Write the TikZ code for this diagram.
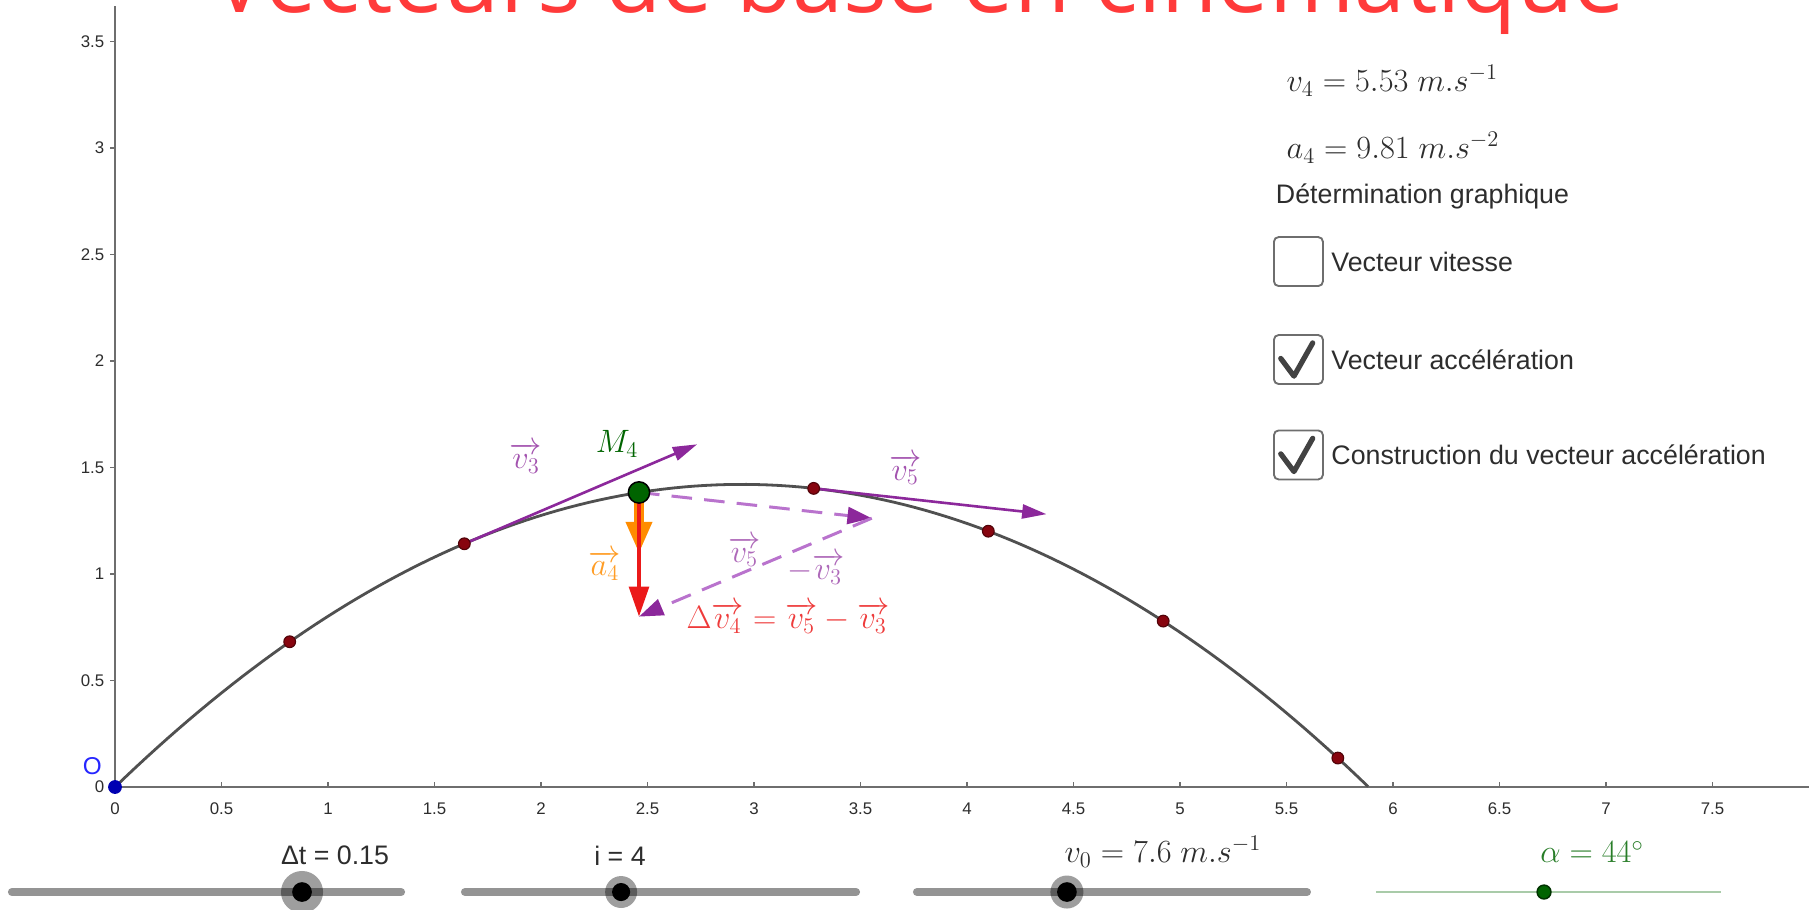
\documentclass[tikz,border=0pt]{standalone}
\usepackage[no-math]{fontspec}
\setmainfont{Liberation Sans}
\newfontfamily\titrefont{Open Sans}
\usepackage{amsmath}
\usetikzlibrary{arrows.meta,positioning,calc}

\definecolor{rougetitre}{RGB}{255,58,58}
\definecolor{gristrait}{RGB}{110,110,110}
\definecolor{griscourbe}{RGB}{80,80,80}
\definecolor{pointrouge}{RGB}{135,5,15}
\definecolor{vertpoint}{RGB}{0,100,0}
\definecolor{vecteurcol}{RGB}{140,40,155}
\definecolor{violetclair}{RGB}{185,115,205}
\definecolor{orangeacc}{RGB}{255,140,0}
\definecolor{rougedv}{RGB}{235,25,25}
\definecolor{texteui}{RGB}{45,45,45}
\definecolor{vertalpha}{RGB}{40,125,40}

\tikzset{
    axe/.style={
        draw=gristrait,           % gris moyen comme dans GeoGebra
        line width=1.4pt
    },
    graduation/.style={
        font=\fontsize{9}{10}\selectfont, % petits chiffres
        text=texteui,
        inner sep=1pt
    },
    trajectoire/.style={
        draw=griscourbe,          % parabole gris foncé
        line width=1.5pt
    },
    pointtraj/.style={
        circle,                   % petit disque
        fill=pointrouge,          % rouge sombre
        draw=pointrouge!60!black, % bord un peu plus foncé
        line width=0.6pt,
        inner sep=0pt,
        minimum size=0.22cm
    },
    pointM/.style={
        circle,
        fill=vertpoint,           % point courant en vert
        draw=black,
        line width=0.8pt,
        inner sep=0pt,
        minimum size=0.40cm
    },
    vitesse/.style={
        draw=vecteurcol,          % vecteurs vitesse en violet
        line width=1.4pt,
        -{Triangle[length=13pt,width=7.5pt]}
    },
    construction/.style={
        draw=violetclair,         % construction en tirets plus clairs
        line width=1.6pt,
        dash pattern=on 11pt off 6.5pt,
        -{Triangle[length=13pt,width=9pt,color=vecteurcol]}
    },
    acceleration/.style={
        draw=orangeacc,           % vecteur accélération épais
        line width=5pt,
        -{Triangle[length=17pt,width=13pt]}
    },
    variation/.style={
        draw=rougedv,
        line width=2pt,
        -{Triangle[length=16pt,width=10.5pt]}
    },
    etiquette/.style={
        font=\fontsize{17}{20}\selectfont, % formules des vecteurs
        inner sep=1pt
    },
    libelle/.style={
        font=\fontsize{14.3}{17}\selectfont, % textes de l'interface
        text=texteui,
        inner sep=1pt
    },
    caseacocher/.style={
        rectangle,
        rounded corners=2.5pt,    % coins légèrement arrondis
        draw=gristrait,
        line width=1pt,
        minimum size=0.92cm
    },
    coche/.style={
        draw=texteui!90,
        line width=2.8pt,
        line cap=round,
        line join=round
    },
    glissiere/.style={
        draw=black!42,            % barre grise épaisse
        line width=4.3pt,
        line cap=round
    },
    halo/.style={
        circle,
        fill=black,
        fill opacity=0.38,        % anneau gris autour du curseur
        inner sep=0pt
    },
    curseur/.style={
        circle,
        fill=black,
        inner sep=0pt,
        minimum size=0.37cm
    }
}

\begin{document}
\begin{tikzpicture}[x=4cm,y=4cm]
    \useasboundingbox (-0.540,-0.577) rectangle (7.953,3.695);

    % titre (coupé en haut)
    \node[anchor=base west, inner sep=0pt, text=rougetitre,
          font=\titrefont\fontsize{49}{55}\selectfont] (titre) at (0.455,3.634)
          {Vecteurs de base en cinématique};

    % axes et graduations
    \draw[axe] (0,0) -- (7.953,0);
    \draw[axe] (0,0) -- (0,3.667);
    \foreach \x in {0.5,1,1.5,2,2.5,3,3.5,4,4.5,5,5.5,6,6.5,7,7.5} {
        \draw[axe, line width=0.8pt] (\x,0) -- (\x,0.022);
        \node[graduation] at (\x,-0.1) {\x};
    }
    \foreach \y in {0.5,1,1.5,2,2.5,3,3.5} {
        \draw[axe, line width=0.8pt] (-0.022,\y) -- (0,\y);
        \node[graduation, anchor=east] at (-0.04,\y) {\y};
    }
    \node[graduation] (zerox) at (0,-0.1) {0};
    \node[graduation, anchor=east] (zeroy) at (-0.04,0) {0};

    % trajectoire parabolique
    \draw[trajectoire] plot[domain=0:5.884, samples=120] (\x,{0.9657*\x-0.1641*\x*\x});

    % positions successives
    \coordinate (M2) at (0.820,0.682);
    \coordinate (M3) at (1.640,1.142);
    \coordinate (M4) at (2.460,1.383);
    \coordinate (M5) at (3.280,1.402);
    \coordinate (M6) at (4.100,1.201);
    \coordinate (M7) at (4.921,0.779);
    \coordinate (M8) at (5.741,0.136);

    \coordinate (v3bout) at (2.733,1.609);
    \coordinate (v5bout) at (4.373,1.281);
    \coordinate (v5copie) at (3.553,1.262);
    \coordinate (dvbout) at (2.460,0.800);
    \coordinate (a4bout) at (2.460,1.095);

    \draw[vitesse] (M3) -- (v3bout);
    \draw[vitesse] (M5) -- (v5bout);
    \draw[construction] (M4) -- (v5copie);
    \draw[construction] (v5copie) -- (dvbout);
    \draw[acceleration] (M4) -- (a4bout);
    \draw[variation] (M4) -- (dvbout);

    \foreach \k in {2,3,5,6,7,8} {
        \node[pointtraj] (P\k) at (M\k) {};
    }
    \node[pointM] (P4) at (M4) {};
    \node[circle, fill=blue!70!black, inner sep=0pt, minimum size=0.26cm] (origine) at (0,0) {};
    \node[text=blue!85!white, font=\fontsize{13}{15}\selectfont] (O) at (-0.107,0.098) {O};

    % étiquettes des vecteurs
    \node[etiquette, text=vertpoint] (lM4) at (2.357,1.610) {$M_4$};
    \node[etiquette, text=vecteurcol!80] (lv3) at (1.930,1.545) {$\overrightarrow{v_3}$};
    \node[etiquette, text=vecteurcol!80] (lv5) at (3.710,1.490) {$\overrightarrow{v_5}$};
    \node[etiquette, text=vecteurcol!70] (lv5c) at (2.955,1.105) {$\overrightarrow{v_5}$};
    \node[etiquette, text=vecteurcol!70] (lmv3) at (3.290,1.025) {$-\overrightarrow{v_3}$};
    \node[etiquette, text=orangeacc!85] (la4) at (2.300,1.040) {$\overrightarrow{a_4}$};
    \node[etiquette, text=rougedv!85] (ldv) at (3.160,0.795)
        {$\Delta\overrightarrow{v_4}=\overrightarrow{v_5}-\overrightarrow{v_3}$};

    % panneau de droite
    \node[etiquette, text=texteui, anchor=west] (vitesse4) at (5.490,3.315) {$v_4 = 5.53\ m.s^{-1}$};
    \node[etiquette, text=texteui, anchor=west] (acc4) at (5.490,3.000) {$a_4 = 9.81\ m.s^{-2}$};
    \node[libelle, anchor=west] (determ) at (5.440,2.775) {Détermination graphique};

    \node[caseacocher] (case1) at (5.556,2.467) {};
    \node[libelle, right=0.1cm of case1] (lib1) {Vecteur vitesse};
    \node[caseacocher] (case2) at (5.556,2.007) {};
    \node[libelle, right=0.1cm of case2] (lib2) {Vecteur accélération};
    \node[caseacocher] (case3) at (5.556,1.559) {};
    \node[libelle, right=0.1cm of case3] (lib3) {Construction du vecteur accélération};
    \foreach \c in {case2,case3} {
        \draw[coche] ([shift={(-0.083,0.005)}]\c.center) -- ([shift={(-0.021,-0.078)}]\c.center)
            -- ([shift={(0.067,0.078)}]\c.center);
    }

    % curseurs
    \draw[glissiere] (-0.484,-0.493) -- (1.343,-0.493);
    \node[halo, minimum size=0.79cm] (halodt) at (0.878,-0.493) {};
    \node[curseur] (curseurdt) at (halodt) {};
    \node[libelle] (dt) at (1.033,-0.322) {Δt = 0.15};

    \draw[glissiere] (1.643,-0.493) -- (3.479,-0.493);
    \node[halo, minimum size=0.60cm] (haloi) at (2.376,-0.493) {};
    \node[curseur, minimum size=0.34cm] (curseuri) at (haloi) {};
    \node[libelle] (indice) at (2.371,-0.322) {i = 4};

    \draw[glissiere] (3.765,-0.493) -- (5.596,-0.493);
    \node[halo, minimum size=0.62cm] (halov0) at (4.469,-0.493) {};
    \node[curseur] (curseurv0) at (halov0) {};
    \node[etiquette, text=texteui] (v0) at (4.920,-0.305) {$v_0 = 7.6\ m.s^{-1}$};

    \draw[draw=vertalpha!40, line width=1pt] (5.920,-0.493) -- (7.540,-0.493);
    \node[circle, fill=vertpoint, draw=vertpoint!50!black, line width=0.8pt,
          inner sep=0pt, minimum size=0.26cm] (curseuralpha) at (6.709,-0.493) {};
    \node[etiquette, text=vertalpha] (alpha) at (6.934,-0.305) {$\alpha = 44^\circ$};
\end{tikzpicture}
\end{document}
